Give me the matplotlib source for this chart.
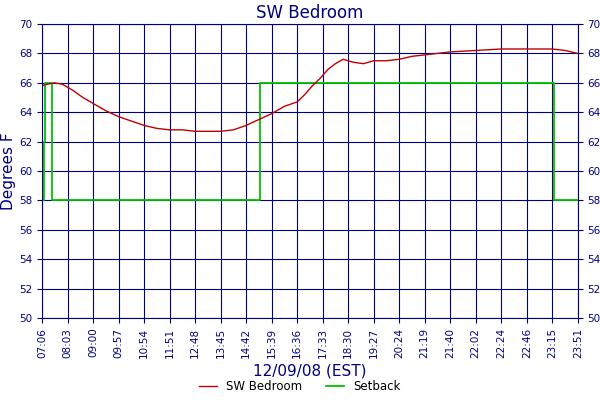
import matplotlib.pyplot as plt

tick_labels = ['07:06', '08:03', '09:00', '09:57', '10:54', '11:51', '12:48', '13:45',
               '14:42', '15:39', '16:36', '17:33', '18:30', '19:27', '20:24', '21:19',
               '21:40', '22:02', '22:24', '22:46', '23:15', '23:51']

# SW Bedroom temperature, position in tick units
temp_x = [0, 0.2, 0.5, 0.8, 1.2, 1.6, 2.0, 2.5, 3.0, 3.5, 4.0, 4.5, 5.0, 5.5, 6.0,
          6.5, 7.0, 7.5, 8.0, 8.5, 9.0, 9.5, 10.0, 10.3, 10.6, 10.9, 11.2, 11.5, 11.8,
          12.2, 12.6, 13.0, 13.5, 14.0, 14.5, 15.0, 15.5, 16.0, 17.0, 18.0, 19.0,
          19.5, 20.0, 20.5, 21.0]
temp_y = [65.8, 65.9, 66.0, 65.9, 65.5, 65.0, 64.6, 64.1, 63.7, 63.4, 63.1, 62.9, 62.8,
          62.8, 62.7, 62.7, 62.7, 62.8, 63.1, 63.5, 63.9, 64.4, 64.7, 65.2, 65.8, 66.3,
          66.9, 67.3, 67.6, 67.4, 67.3, 67.5, 67.5, 67.6, 67.8, 67.9, 68.0, 68.1, 68.2,
          68.3, 68.3, 68.3, 68.3, 68.2, 68.0]

# Setback setpoint
set_x = [0, 0.08, 0.08, 0.12, 0.12, 0.4, 0.4, 8.55, 8.55, 20.05, 20.05, 21.0]
set_y = [58, 58, 62, 62, 66, 66, 58, 58, 66, 66, 58, 58]

navy = '#00007f'
fig = plt.figure(figsize=(6, 4), dpi=100)
ax = fig.add_axes([0.07, 0.205, 0.893, 0.735])
ax.plot(set_x, set_y, color='#00c000', lw=1.3, label='Setback')
ax.plot(temp_x, temp_y, color='#c00000', lw=1, label='SW Bedroom')

ax.set_xlim(0, 21)
ax.set_ylim(50, 70)
ax.set_xticks(range(len(tick_labels)))
ax.set_xticklabels(tick_labels, rotation=90, fontsize=7.5, color=navy)
ax.set_yticks(range(50, 71, 2))
ax.tick_params(axis='y', labelsize=7.5, colors=navy, right=True, labelright=True)
ax.tick_params(axis='x', colors=navy)
ax.grid(True, color=navy, lw=0.8)
for s in ax.spines.values():
    s.set_color(navy)
ax.set_title('SW Bedroom', color=navy, fontsize=12, pad=4)
ax.set_xlabel('12/09/08 (EST)', color=navy, fontsize=11, labelpad=4)
ax.set_ylabel('Degrees F', color=navy, fontsize=11, labelpad=2)

h, l = ax.get_legend_handles_labels()
fig.legend(h[::-1], l[::-1], loc='lower center', ncol=2, frameon=False,
           fontsize=8.5, bbox_to_anchor=(0.5, -0.01), handlelength=1.5)
fig.savefig('out.png')
